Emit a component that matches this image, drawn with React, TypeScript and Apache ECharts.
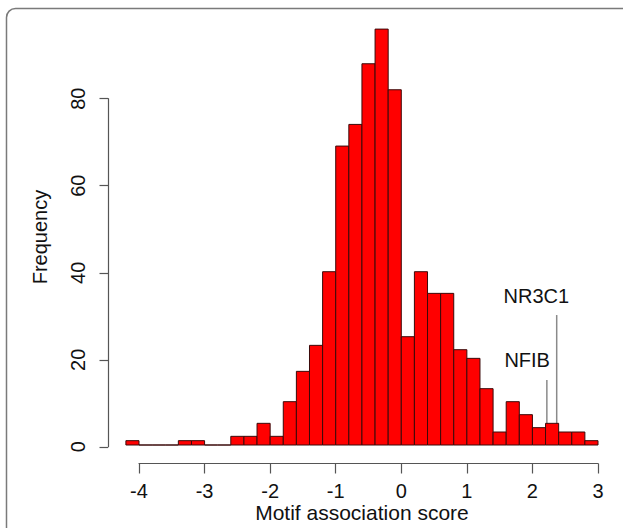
import React, { useEffect, useRef } from "react";
import * as echarts from "echarts";

const binStarts = [
  -4.2, -4.0, -3.8, -3.6, -3.4, -3.2, -3.0, -2.8, -2.6, -2.4, -2.2, -2.0,
  -1.8, -1.6, -1.4, -1.2, -1.0, -0.8, -0.6, -0.4, -0.2, 0.0, 0.2, 0.4,
  0.6, 0.8, 1.0, 1.2, 1.4, 1.6, 1.8, 2.0, 2.2, 2.4, 2.6, 2.8,
];
const binEnds = [
  -4.0, -3.8, -3.6, -3.4, -3.2, -3.0, -2.8, -2.6, -2.4, -2.2, -2.0, -1.8,
  -1.6, -1.4, -1.2, -1.0, -0.8, -0.6, -0.4, -0.2, 0.0, 0.2, 0.4, 0.6,
  0.8, 1.0, 1.2, 1.4, 1.6, 1.8, 2.0, 2.2, 2.4, 2.6, 2.8, 3.0,
];
const frequencies = [
  1, 0, 0, 0, 1, 1, 0, 0, 2, 2, 5, 2,
  10, 17, 23, 40, 69, 74, 88, 96, 82, 25, 40, 35,
  35, 22, 20, 13, 3, 10, 7, 4, 5, 3, 3, 1,
];

const markerNames = ["NFIB", "NR3C1"];
const markerScores = [2.22, 2.37];
const markerTops = [15, 30];
const markerLabelX = [1.92, 2.06];
const markerLabelY = [19.6, 34.5];

const xTicks = { min: -4, max: 3, interval: 1 };
const yTicks = { min: 0, max: 80, interval: 20 };

const FONT = "'Liberation Sans', Arial, Helvetica, sans-serif";

export default function App() {
  const ref = useRef<HTMLDivElement>(null);
  useEffect(() => {
    if (!ref.current) return;
    const chart = echarts.init(ref.current, null, { renderer: "svg" });
    const histData = binStarts.map((s, i) => [s, binEnds[i], frequencies[i]]);
    const lineData = markerScores.map((s, i) => [s, markerTops[i]]);
    const labelData = markerNames.map((n, i) => [markerLabelX[i], markerLabelY[i], n]);

    const hiddenAxisBits = {
      axisLine: { show: false },
      axisTick: { show: false },
      axisLabel: { show: false },
      splitLine: { show: false },
    };

    chart.setOption({
      animation: false,
      backgroundColor: "#ffffff",
      textStyle: { fontFamily: FONT },
      graphic: [
        {
          type: "rect",
          shape: { x: 6.5, y: 8.5, width: 700, height: 600, r: 9 },
          style: { fill: "none", stroke: "#7a7a7a", lineWidth: 1.5 },
          silent: true,
        },
      ],
      grid: [
        { left: 125.9, right: 25, top: 29.1, bottom: 81.2 },
        { left: 139, right: 25, top: 462.5, height: 1 },
        { left: 108, width: 1, top: 98.7, height: 348.1 },
      ],
      xAxis: [
        {
          type: "value",
          gridIndex: 0,
          min: -4.2,
          max: 3,
          name: "Motif association score",
          nameLocation: "middle",
          nameGap: 57,
          nameTextStyle: { fontSize: 21, color: "#111", fontFamily: FONT },
          ...hiddenAxisBits,
        },
        {
          type: "value",
          gridIndex: 1,
          min: xTicks.min,
          max: xTicks.max,
          interval: xTicks.interval,
          axisLine: { show: true, lineStyle: { color: "#555", width: 1.2 } },
          axisTick: { show: true, length: 10, lineStyle: { color: "#555", width: 1.2 } },
          axisLabel: { show: true, fontSize: 20, color: "#111", margin: 17, fontFamily: FONT },
          splitLine: { show: false },
        },
        {
          type: "value",
          gridIndex: 2,
          min: 0,
          max: 1,
          ...hiddenAxisBits,
        },
      ],
      yAxis: [
        {
          type: "value",
          gridIndex: 0,
          min: 0,
          max: 96,
          name: "Frequency",
          nameLocation: "middle",
          nameRotate: 90,
          nameGap: 76,
          nameTextStyle: { fontSize: 20, color: "#111", fontFamily: FONT },
          ...hiddenAxisBits,
        },
        {
          type: "value",
          gridIndex: 1,
          min: 0,
          max: 1,
          ...hiddenAxisBits,
        },
        {
          type: "value",
          gridIndex: 2,
          min: yTicks.min,
          max: yTicks.max,
          interval: yTicks.interval,
          axisLine: { show: true, lineStyle: { color: "#555", width: 1.2 } },
          axisTick: { show: true, length: 8.5, lineStyle: { color: "#555", width: 1.2 } },
          axisLabel: { show: true, fontSize: 20, color: "#111", margin: 20, rotate: 90, fontFamily: FONT },
          splitLine: { show: false },
        },
      ],
      series: [
        {
          type: "custom",
          name: "markerLines",
          xAxisIndex: 0,
          yAxisIndex: 0,
          z: 1,
          data: lineData,
          encode: { x: 0, y: 1 },
          renderItem: (params: any, api: any) => {
            const top = api.coord([api.value(0), api.value(1)]);
            const bot = api.coord([api.value(0), 0]);
            return {
              type: "line",
              shape: { x1: top[0], y1: top[1], x2: bot[0], y2: bot[1] },
              style: { stroke: "#8a8a8a", lineWidth: 1.5 },
            };
          },
        },
        {
          type: "custom",
          name: "histogram",
          xAxisIndex: 0,
          yAxisIndex: 0,
          z: 2,
          data: histData,
          encode: { x: [0, 1], y: 2 },
          renderItem: (params: any, api: any) => {
            const p0 = api.coord([api.value(0), api.value(2)]);
            const p1 = api.coord([api.value(1), 0]);
            return {
              type: "rect",
              shape: { x: p0[0], y: p0[1], width: p1[0] - p0[0], height: p1[1] - p0[1] },
              style: { fill: "#ff0000", stroke: "#3a0a0a", lineWidth: 1 },
            };
          },
        },
        {
          type: "custom",
          name: "markerLabels",
          xAxisIndex: 0,
          yAxisIndex: 0,
          z: 3,
          data: labelData,
          encode: { x: 0, y: 1 },
          renderItem: (params: any, api: any) => {
            const p = api.coord([api.value(0), api.value(1)]);
            return {
              type: "text",
              x: p[0],
              y: p[1],
              style: {
                text: markerNames[params.dataIndex],
                fontSize: 20,
                fontFamily: FONT,
                fill: "#111",
                align: "center",
                verticalAlign: "middle",
              },
            };
          },
        },
      ],
    });
    return () => chart.dispose();
  }, []);
  return (
    <div
      ref={ref}
      style={{ position: "fixed", left: 0, top: 0, width: 623, height: 528 }}
    />
  );
}
